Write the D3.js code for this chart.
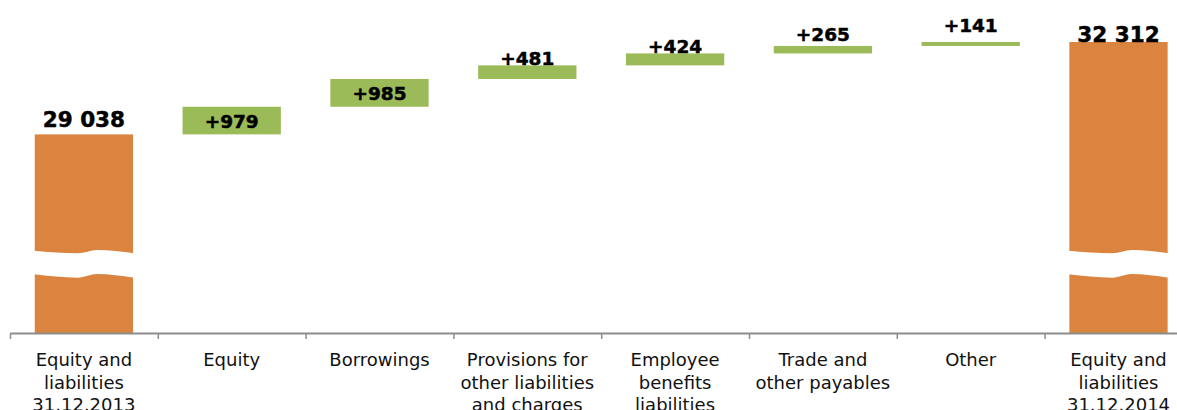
<!DOCTYPE html>
<html>
<head>
<meta charset="utf-8">
<script src="https://cdn.jsdelivr.net/npm/d3@7"></script>
<style>
  body { margin: 0; background: #fff; }
  svg { display: block; font-family: "DejaVu Sans", Verdana, sans-serif; }
</style>
</head>
<body>
<svg id="chart"></svg>
<script>
var width = 1177,
    height = 410;

// data
var categories = [
  ["Equity and", "liabilities", "31.12.2013"],
  ["Equity"],
  ["Borrowings"],
  ["Provisions for", "other liabilities", "and charges"],
  ["Employee", "benefits", "liabilities"],
  ["Trade and", "other payables"],
  ["Other"],
  ["Equity and", "liabilities", "31.12.2014"]
];
var kinds = ["total", "delta", "delta", "delta", "delta", "delta", "delta", "total"];
var values = [29038, 979, 985, 481, 424, 265, 141, 32312];
var valueLabels = ["29 038", "+979", "+985", "+481", "+424", "+265", "+141", "32 312"];

var orange = "#db843f",
    green = "#9bbb59";

var baseY = 333;
var step = 147.8;
var left = 10;

// waterfall start/end
var run = 0;
var bars = values.map((v, i) => {
  var b;
  if (kinds[i] === "total") { b = {lo: null, hi: v}; run = v; }
  else { b = {lo: run, hi: run + v}; run += v; }
  b.i = i; b.kind = kinds[i]; b.label = valueLabels[i];
  return b;
});

var x = d3.scaleBand()
          .domain(d3.range(categories.length))
          .range([left, left + step * categories.length])
          .padding(0);

var xEdge = d3.scaleLinear()
              .domain([0, categories.length])
              .range([left, left + step * categories.length]);

var y = d3.scaleLinear()
          .domain([22000, 33800])
          .range([baseY, 0]);

var barW = x.bandwidth() * 0.665;

var svg = d3.select('#chart')
            .attr('width', width)
            .attr('height', height);

// bars
svg.selectAll('.bar')
   .data(bars)
   .enter()
   .append('rect')
     .attr('class', 'bar')
     .attr('x', d => x(d.i) + (x.bandwidth() - barW) / 2)
     .attr('width', barW)
     .attr('y', d => y(d.hi))
     .attr('height', d => (d.lo === null ? y.range()[0] : y(d.lo)) - y(d.hi))
     .attr('fill', d => d.kind === "total" ? orange : green);

// axis break on total bars (white wavy gap)
var gap = d3.area()
            .curve(d3.curveMonotoneX)
            .x(p => p[0])
            .y0(p => p[2])
            .y1(p => p[1]);
bars.filter(d => d.kind === "total").forEach(d => {
  var x0 = x(d.i) + (x.bandwidth() - barW) / 2 - 1,
      w = barW + 2;
  var pts = [
    [x0,            baseY - 82.3, baseY - 58.7],
    [x0 + 0.44 * w, baseY - 79.7, baseY - 55.3],
    [x0 + 0.63 * w, baseY - 83,   baseY - 59],
    [x0 + w,        baseY - 79.7, baseY - 55.3]
  ];
  svg.append('path')
     .attr('d', gap(pts))
     .attr('fill', '#fff');
});

// value labels
svg.selectAll('.vlabel')
   .data(bars)
   .enter()
   .append('text')
     .attr('class', 'vlabel')
     .attr('x', d => x(d.i) + x.bandwidth() / 2)
     .attr('y', d => {
       if (d.kind === "total") return Math.max(y(d.hi) - 7.5, 42);
       var h = y(d.lo) - y(d.hi);
       if (h > 20) return (y(d.lo) + y(d.hi)) / 2 + 7;
       return y(d.hi) - Math.pow(14 - h, 1.6) * 0.25;
     })
     .attr('text-anchor', 'middle')
     .attr('font-weight', 'bold')
     .attr('font-size', d => d.kind === "total" ? 21.5 : 18.5)
     .attr('fill', '#000')
     .attr('stroke', '#000')
     .attr('stroke-width', 0.5)
     .text(d => d.label);

// axis with ticks at category boundaries
var axis = svg.append('g')
              .attr('transform', 'translate(0,' + baseY + ')')
              .call(d3.axisBottom(xEdge)
                      .tickValues(d3.range(categories.length + 1))
                      .tickFormat('')
                      .tickSize(6)
                      .tickSizeOuter(0));
axis.select('.domain').attr('stroke', '#8c8c8c').attr('stroke-width', 2);
axis.selectAll('.tick line').attr('stroke', '#8c8c8c').attr('stroke-width', 1.5);

// category labels
var cat = svg.selectAll('.cat')
             .data(categories)
             .enter()
             .append('text')
               .attr('class', 'cat')
               .attr('text-anchor', 'middle')
               .attr('font-size', 18)
               .attr('fill', '#111');
cat.selectAll('tspan')
   .data((d, i) => d.map(t => ({t: t, i: i})))
   .enter()
   .append('tspan')
     .attr('x', d => x(d.i) + x.bandwidth() / 2)
     .attr('y', (d, j) => 366 + j * 22.5)
     .text(d => d.t);
</script>
</body>
</html>
